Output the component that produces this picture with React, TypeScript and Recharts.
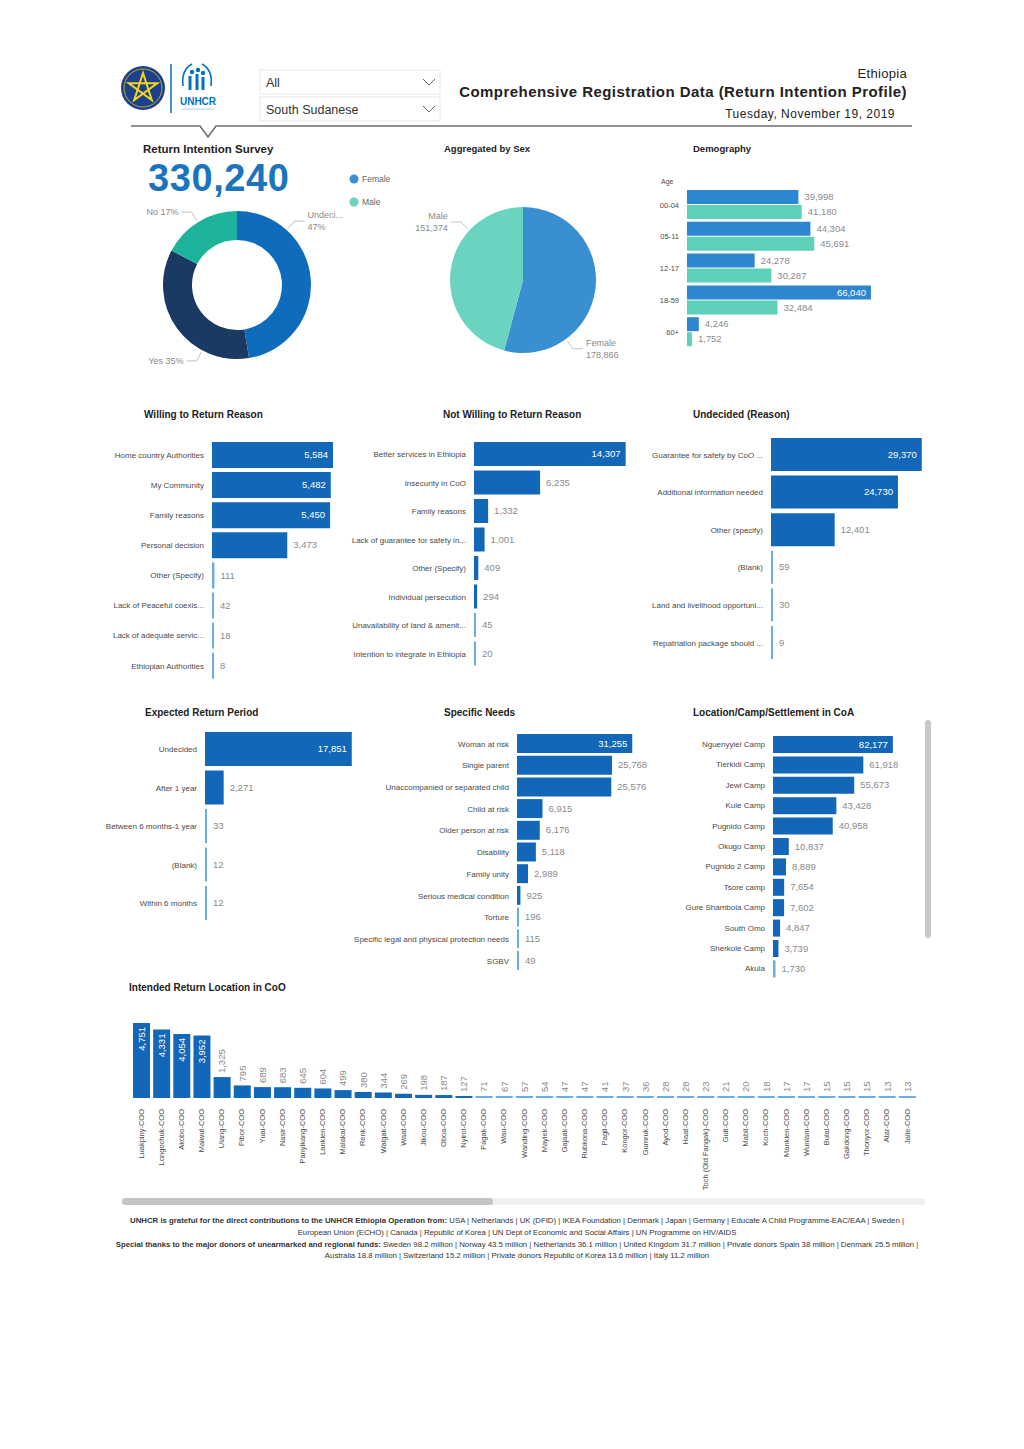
import React from 'react'
import { BarChart, Bar, XAxis, YAxis, PieChart, Pie, Cell, LabelList } from 'recharts'

const FONT = '"Liberation Sans", Arial, Helvetica, sans-serif'
const DARK = '#1267b8'
const LIGHT = '#6aaee0'
const VALUE_TXT = '#8a8a8a'
const TICK_TXT = '#4a4a4a'

// ---- data ----
const intentionNames = ['Undecided', 'Yes', 'No']
const intentionShares = [47.4, 35.3, 17.3]
const intentionColors = ['#0f6cbd', '#1b3a63', '#1db39a']

const sexNames = ['Female', 'Male']
const sexCounts = [178866, 151374]
const sexColors = ['#3a8fd0', '#6bd4c1']

const ageGroups = ['00-04', '05-11', '12-17', '18-59', '60+']
const femaleByAge = [39998, 44304, 24278, 66040, 4246]
const maleByAge = [41180, 45691, 30287, 32484, 1752]

const willingReasons = ['Home country Authorities', 'My Community', 'Family reasons', 'Personal decision', 'Other (Specify)', 'Lack of Peaceful coexis...', 'Lack of adequate servic...', 'Ethiopian Authorities']
const willingCounts = [5584, 5482, 5450, 3473, 111, 42, 18, 8]

const notWillingReasons = ['Better services in Ethiopia', 'Insecurity in CoO', 'Family reasons', 'Lack of guarantee for safety in...', 'Other (Specify)', 'Individual persecution', 'Unavailability of land & amenit...', 'Intention to integrate in Ethiopia']
const notWillingCounts = [14307, 6235, 1332, 1001, 409, 294, 45, 20]

const undecidedReasons = ['Guarantee for safety by CoO ...', 'Additional information needed', 'Other (specify)', '(Blank)', 'Land and livelihood opportuni...', 'Repatriation package should ...']
const undecidedCounts = [29370, 24730, 12401, 59, 30, 9]

const returnPeriods = ['Undecided', 'After 1 year', 'Between 6 months-1 year', '(Blank)', 'Within 6 months']
const returnPeriodCounts = [17851, 2271, 33, 12, 12]

const needs = ['Woman at risk', 'Single parent', 'Unaccompanied or separated child', 'Child at risk', 'Older person at risk', 'Disability', 'Family unity', 'Serious medical condition', 'Torture', 'Specific legal and physical protection needs', 'SGBV']
const needCounts = [31255, 25768, 25576, 6915, 6176, 5118, 2989, 925, 196, 115, 49]

const camps = ['Nguenyyiel Camp', 'Tierkidi Camp', 'Jewi Camp', 'Kule Camp', 'Pugnido Camp', 'Okugo Camp', 'Pugnido 2 Camp', 'Tsore camp', 'Gure Shambola Camp', 'South Omo', 'Sherkole Camp', 'Akula']
const campCounts = [82177, 61918, 55673, 43428, 40958, 10837, 8889, 7654, 7602, 4847, 3739, 1730]

const returnPlaces = ['Luakpiny-COO', 'Longochuk-COO', 'Akobo-COO', 'Maiwut-COO', 'Ulang-COO', 'Pibor-COO', 'Yuai-COO', 'Nasir-COO', 'Panyikang-COO', 'Lankien-COO', 'Malakal-COO', 'Renk-COO', 'Walgak-COO', 'Waat-COO', 'Jikou-COO', 'Oboa-COO', 'Nyirol-COO', 'Pagak-COO', 'Wau-COO', 'Wanding-COO', 'Mayiek-COO', 'Gajaak-COO', 'Rubkona-COO', 'Pagil-COO', 'Kongor-COO', 'Gumruk-COO', 'Ayod-COO', 'Haat-COO', 'Toch (Old Fangak)-COO', 'Guit-COO', 'Mabil-COO', 'Koch-COO', 'Mankien-COO', 'Wunlam-COO', 'Bulal-COO', 'Gakdong-COO', 'Thonyor-COO', 'Atar-COO', 'Jalle-COO']
const returnCounts = [4751, 4331, 4054, 3952, 1325, 795, 689, 683, 645, 604, 499, 380, 344, 269, 198, 187, 127, 71, 67, 57, 54, 47, 47, 41, 37, 36, 28, 28, 23, 21, 20, 18, 17, 17, 15, 15, 15, 13, 13]

// where Power BI put the slice callouts (degrees, counter-clockwise from 3 o'clock)
const intentionLabelAngles = [48, -118, 122]
const sexLabelAngles = [-54, 137]

const fmt = (v: number) => Number(v).toLocaleString('en-US')

// bar value label: outside end, falls back inside when it would run past `limit`
const hLabel = (limit: number) => (p: any) => {
  const vb = p.viewBox || {}
  const x = Number(p.x ?? vb.x), y = Number(p.y ?? vb.y)
  const w = Number(p.width ?? vb.width), h = Number(p.height ?? vb.height)
  const txt = fmt(p.value)
  const tw = txt.length * 5
  const inside = x + w + 6 + tw > limit
  return (
    <text x={inside ? x + w - 5 : x + w + 6} y={y + h / 2} dy={3.2} textAnchor={inside ? 'end' : 'start'}
      fontSize={9.5} fill={inside ? '#fff' : VALUE_TXT} fontFamily={FONT}>{txt}</text>
  )
}

const vLabel = (limitY: number) => (p: any) => {
  const vb = p.viewBox || {}
  const x = Number(p.x ?? vb.x), y = Number(p.y ?? vb.y)
  const w = Number(p.width ?? vb.width)
  const txt = fmt(p.value)
  const tw = txt.length * 5
  const inside = y - 4 - tw < limitY
  const cx = x + w / 2
  const ty = inside ? y + 4 : y - 4
  return (
    <text transform={`translate(${cx},${ty}) rotate(-90)`} dy={3.3} textAnchor={inside ? 'end' : 'start'}
      fontSize={9.5} fill={inside ? '#fff' : VALUE_TXT} fontFamily={FONT}>{txt}</text>
  )
}

const RotTick = (p: any) => (
  <text transform={`translate(${p.x},${p.y + 3}) rotate(-90)`} dy={2.6} textAnchor="end"
    fontSize={7.5} fill={TICK_TXT} fontFamily={FONT}>{p.payload.value}</text>
)

// single-line category tick (no wrapping)
const yTick = (size: number) => (p: any) => (
  <text x={p.x} y={p.y} dy={size * 0.35} textAnchor="end" fontSize={size} fill={TICK_TXT} fontFamily={FONT}>
    {p.payload.value}
  </text>
)

const RAD = Math.PI / 180
const callout = (angles: number[], lines: (p: any) => string[]) => (p: any) => {
  const a = angles[p.index] * RAD
  const c = Math.cos(a), s = Math.sin(a)
  const r0 = p.outerRadius + 2, r1 = p.outerRadius + 12
  const x0 = p.cx + r0 * c, y0 = p.cy - r0 * s
  const x1 = p.cx + r1 * c, y1 = p.cy - r1 * s
  const dir = c >= 0 ? 1 : -1
  const x2 = x1 + dir * 10
  const ls = lines(p)
  const ty = y1 - (ls.length - 1) * 6 + 3
  return (
    <g>
      <polyline points={`${x0},${y0} ${x1},${y1} ${x2},${y1}`} fill="none" stroke="#b0b0b0" strokeWidth={0.8} />
      <text y={ty} textAnchor={dir > 0 ? 'start' : 'end'} fontSize={9} fill={VALUE_TXT} fontFamily={FONT}>
        {ls.map((l, k) => <tspan key={k} x={x2 + dir * 3} dy={k === 0 ? 0 : 12}>{l}</tspan>)}
      </text>
    </g>
  )
}

type HBarProps = {
  names: string[]; values: number[]; left: number; top: number; plotStart: number; plotW: number
  limitX: number; domainMax: number; rowH: number; barSize: number; tickSize?: number
}

function HBar({ names, values, left, top, plotStart, plotW, limitX, domainMax, rowH, barSize, tickSize = 8 }: HBarProps) {
  const data = names.map((name, i) => ({ name, value: values[i] }))
  const axisW = plotStart - left
  const width = limitX - left
  return (
    <div style={{ position: 'absolute', left, top }}>
      <BarChart layout="vertical" width={width} height={rowH * names.length} data={data}
        margin={{ top: 0, right: width - axisW - plotW, bottom: 0, left: 0 }}>
        <XAxis type="number" domain={[0, domainMax]} hide />
        <YAxis type="category" dataKey="name" width={axisW} tickLine={false} axisLine={false}
          tickSize={0} tickMargin={8} interval={0} tick={yTick(tickSize)} />
        <Bar dataKey="value" barSize={barSize} minPointSize={2} isAnimationActive={false}>
          {data.map((d, i) => <Cell key={i} fill={(d.value / domainMax) * plotW < 3 ? LIGHT : DARK} />)}
          <LabelList dataKey="value" content={hLabel(width)} />
        </Bar>
      </BarChart>
    </div>
  )
}

function Demography() {
  const data = ageGroups.map((age, i) => ({ age, female: femaleByAge[i], male: maleByAge[i] }))
  const left = 640, plotStart = 687, plotW = 195, width = 250
  return (
    <div style={{ position: 'absolute', left, top: 189 }}>
      <BarChart layout="vertical" width={width} height={159} data={data} barGap={1}
        margin={{ top: 0, right: width - (plotStart - left) - plotW, bottom: 0, left: 0 }}>
        <XAxis type="number" domain={[0, 70000]} hide />
        <YAxis type="category" dataKey="age" width={plotStart - left} tickLine={false} axisLine={false}
          tickSize={0} tickMargin={8} interval={0} tick={yTick(7.5)} />
        <Bar dataKey="female" fill="#2f86d0" barSize={14} isAnimationActive={false}>
          <LabelList dataKey="female" content={hLabel(width)} />
        </Bar>
        <Bar dataKey="male" fill="#5cd0b8" barSize={14} minPointSize={2} isAnimationActive={false}>
          <LabelList dataKey="male" content={hLabel(width)} />
        </Bar>
      </BarChart>
    </div>
  )
}

function IntentionDonut() {
  const data = intentionNames.map((name, i) => ({ name, value: intentionShares[i] }))
  return (
    <div style={{ position: 'absolute', left: 127, top: 195 }}>
      <PieChart width={240} height={180} margin={{ top: 0, right: 0, bottom: 0, left: 0 }}>
        <Pie data={data} dataKey="value" nameKey="name" cx={110} cy={90} innerRadius={45} outerRadius={74}
          startAngle={90} endAngle={-270} stroke="none" isAnimationActive={false} labelLine={false}
          label={callout(intentionLabelAngles, (p) => {
            const pct = Math.round(p.percent * 100) + '%'
            return p.name.length > 5 ? [p.name.slice(0, 6) + '...', pct] : [`${p.name} ${pct}`]
          })}>
          {data.map((d, i) => <Cell key={d.name} fill={intentionColors[i]} />)}
        </Pie>
      </PieChart>
    </div>
  )
}

function SexPie() {
  const data = sexNames.map((name, i) => ({ name, value: sexCounts[i] }))
  return (
    <div style={{ position: 'absolute', left: 400, top: 195 }}>
      <PieChart width={240} height={175} margin={{ top: 0, right: 0, bottom: 0, left: 0 }}>
        <Pie data={data} dataKey="value" nameKey="name" cx={123} cy={85} outerRadius={73}
          startAngle={90} endAngle={-270} stroke="none" isAnimationActive={false} labelLine={false}
          label={callout(sexLabelAngles, (p) => [p.name, fmt(p.value)])}>
          {data.map((d, i) => <Cell key={d.name} fill={sexColors[i]} />)}
        </Pie>
      </PieChart>
    </div>
  )
}

function ReturnLocations() {
  const data = returnPlaces.map((name, i) => ({ name, value: returnCounts[i] }))
  return (
    <div style={{ position: 'absolute', left: 120, top: 995 }}>
      <BarChart width={805} height={198} data={data} margin={{ top: 24, right: 8, bottom: 0, left: 11 }}>
        <XAxis dataKey="name" interval={0} height={95} tickLine={false} axisLine={false} tick={<RotTick />} />
        <YAxis domain={[0, 5000]} hide />
        <Bar dataKey="value" barSize={17} minPointSize={2} isAnimationActive={false}>
          {data.map((d, i) => <Cell key={i} fill={d.value < 100 ? LIGHT : DARK} />)}
          <LabelList dataKey="value" content={vLabel(20)} />
        </Bar>
      </BarChart>
    </div>
  )
}

function Header() {
  const star = Array.from({ length: 5 }, (_, i) => {
    const a = (-90 + i * 144) * RAD
    return `${143 + 15 * Math.cos(a)},${88 + 15 * Math.sin(a)}`
  }).join(' ')
  return (
    <g fontFamily={FONT}>
      <circle cx={143} cy={88} r={22} fill="#1c3f8e" />
      <circle cx={143} cy={88} r={19} fill="none" stroke="#e8c21a" strokeWidth={0.8} />
      <polygon points={star} fill="none" stroke="#f4d51a" strokeWidth={2} />
      <line x1={171} y1={64} x2={171} y2={113} stroke="#0072bc" strokeWidth={1.5} />
      <path d="M183 86 Q181 70 192 64 M211 86 Q213 70 202 64" fill="none" stroke="#0072bc" strokeWidth={1.6} />
      <circle cx={192} cy={72} r={2.2} fill="#0072bc" />
      <circle cx={198} cy={70} r={2.2} fill="#0072bc" />
      <circle cx={203} cy={73} r={2.2} fill="#0072bc" />
      <path d="M190 76 L190 90 M197 74 L197 90 M203 77 L203 90" stroke="#0072bc" strokeWidth={3} />
      <text x={198} y={105} textAnchor="middle" fontSize={10} fontWeight={700} fill="#0072bc">UNHCR</text>
      <line x1={182} y1={109} x2={214} y2={109} stroke="#7aa7d3" strokeWidth={0.6} />

      <rect x={260} y={70} width={180} height={24} fill="#fff" stroke="#e8e8e8" />
      <text x={266} y={87} fontSize={12.5} fill="#333">All</text>
      <polyline points="423,79 429,85 435,79" fill="none" stroke="#666" strokeWidth={1} />
      <rect x={260} y={97} width={180} height={24} fill="#fff" stroke="#e8e8e8" />
      <text x={266} y={114} fontSize={12.5} fill="#333">South Sudanese</text>
      <polyline points="423,106 429,112 435,106" fill="none" stroke="#666" strokeWidth={1} />

      <text x={907} y={78} textAnchor="end" fontSize={13} letterSpacing={0.3} fill="#222">Ethiopia</text>
      <text x={907} y={97} textAnchor="end" fontSize={15} fontWeight={700} letterSpacing={0.45} fill="#222">Comprehensive Registration Data (Return Intention Profile)</text>
      <text x={895} y={118} textAnchor="end" fontSize={12} letterSpacing={0.5} fill="#222">Tuesday, November 19, 2019</text>

      <polyline points="131,126 200,126 208,137 216,126 912,126" fill="#fff" stroke="#6d6d6d" strokeWidth={1.5} />
    </g>
  )
}

const sectionTitles: [string, number, number, number][] = [
  ['Return Intention Survey', 143, 152.5, 11.5],
  ['Aggregated by Sex', 444, 151.5, 9.5],
  ['Demography', 693, 151.5, 9.5],
  ['Willing to Return Reason', 144, 418, 10],
  ['Not Willing to Return Reason', 443, 418, 10],
  ['Undecided (Reason)', 693, 418, 10],
  ['Expected Return Period', 145, 716, 10],
  ['Specific Needs', 444, 716, 10],
  ['Location/Camp/Settlement in CoA', 693, 716, 10],
  ['Intended Return Location in CoO', 129, 991, 10],
]

export default function App() {
  return (
    <div style={{ position: 'relative', width: 1024, height: 1449, margin: -8, background: '#fff', fontFamily: FONT, overflow: 'hidden' }}>
      <svg width={1024} height={1449} style={{ position: 'absolute', left: 0, top: 0 }}>
        <Header />
        {sectionTitles.map(([t, x, y, f]) => (
          <text key={t} x={x} y={y} fontSize={f} fontWeight={700} fill="#222" fontFamily={FONT}>{t}</text>
        ))}
        <text x={148} y={191} fontSize={38} fontWeight={700} letterSpacing={0.6} fill="#1c75bc" fontFamily={FONT}>330,240</text>
        {sexNames.map((n, i) => (
          <g key={n}>
            <circle cx={354} cy={179 + i * 23} r={4.5} fill={sexColors[i]} />
            <text x={362} y={182 + i * 23} fontSize={8.5} fill="#666" fontFamily={FONT}>{n}</text>
          </g>
        ))}
        <text x={661} y={184} fontSize={7} fill={TICK_TXT} fontFamily={FONT}>Age</text>

        <rect x={925} y={720} width={6} height={218} rx={3} fill="#c8c8c8" />
        <rect x={122} y={1198} width={803} height={7} rx={3.5} fill="#f0f0f0" />
        <rect x={122} y={1198} width={371} height={7} rx={3.5} fill="#c4c4c4" />

        <g fontFamily={FONT} fontSize={7.8} fill="#333" textAnchor="middle">
          <text x={517} y={1223}>
            <tspan fontWeight={700}>UNHCR is grateful for the direct contributions to the UNHCR Ethiopia Operation from: </tspan>
            USA | Netherlands | UK (DFID) | IKEA Foundation | Denmark | Japan | Germany | Educate A Child Programme-EAC/EAA | Sweden |
          </text>
          <text x={517} y={1235}>European Union (ECHO) | Canada | Republic of Korea | UN Dept of Economic and Social Affairs | UN Programme on HIV/AIDS</text>
          <text x={517} y={1247}>
            <tspan fontWeight={700}>Special thanks to the major donors of unearmarked and regional funds: </tspan>
            Sweden 98.2 million | Norway 43.5 million | Netherlands 36.1 million | United Kingdom 31.7 million | Private donors Spain 38 million | Denmark 25.5 million |
          </text>
          <text x={517} y={1258}>Australia 18.8 million | Switzerland 15.2 million | Private donors Republic of Korea 13.6 million | Italy 11.2 million</text>
        </g>
      </svg>

      <IntentionDonut />
      <SexPie />
      <Demography />

      <HBar names={willingReasons} values={willingCounts} left={100} top={440} plotStart={212} plotW={130}
        limitX={345} domainMax={6000} rowH={30.1} barSize={26} />
      <HBar names={notWillingReasons} values={notWillingCounts} left={340} top={440} plotStart={474} plotW={159}
        limitX={640} domainMax={15000} rowH={28.5} barSize={24} />
      <HBar names={undecidedReasons} values={undecidedCounts} left={640} top={436} plotStart={771} plotW={154}
        limitX={930} domainMax={30000} rowH={37.6} barSize={33} />

      <HBar names={returnPeriods} values={returnPeriodCounts} left={100} top={730} plotStart={205} plotW={148}
        limitX={360} domainMax={18000} rowH={38.5} barSize={34} />
      <HBar names={needs} values={needCounts} left={345} top={733} plotStart={517} plotW={118}
        limitX={655} domainMax={32000} rowH={21.7} barSize={19} />
      <HBar names={camps} values={campCounts} left={640} top={734} plotStart={773} plotW={124}
        limitX={915} domainMax={85000} rowH={20.4} barSize={17} />

      <ReturnLocations />
    </div>
  )
}
